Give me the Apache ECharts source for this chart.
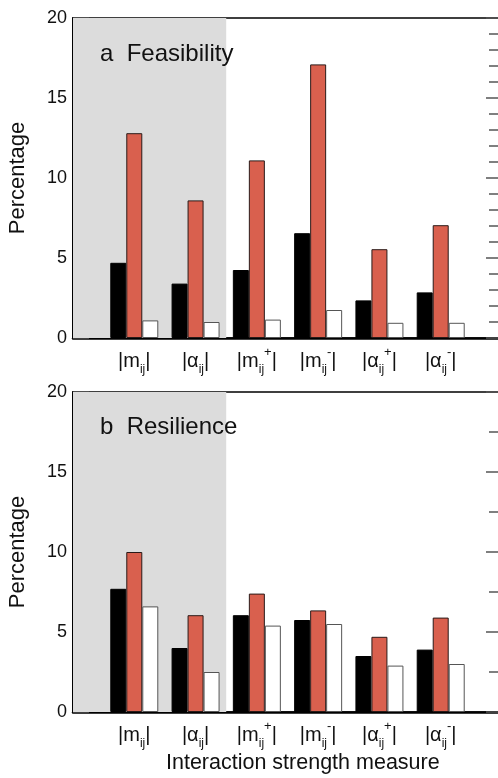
<!DOCTYPE html>
<html>
<head>
<meta charset="utf-8">
<script src="https://cdn.jsdelivr.net/npm/echarts@6/dist/echarts.min.js"></script>
<style>
	html, body {
		margin: 0;
		padding: 0;
		background: #fff;
	}

	#chart {
		width: 498px;
		height: 778px;
	}
</style>
</head>
<body>
<div id="chart"></div>
<script>
	// 横轴类别 (rich text)
	var categories = [
		'{n||m}{sub|ij}{n||}',
		'{n||α}{sub|ij}{n||}',
		'{n||m}{sub|ij}{sup|+}{n||}',
		'{n||m}{sub|ij}{sup|-}{n||}',
		'{n||α}{sub|ij}{sup|+}{n||}',
		'{n||α}{sub|ij}{sup|-}{n||}'
	];
	// a Feasibility
	var feasBlack = [4.7, 3.4, 4.25, 6.55, 2.35, 2.85];
	var feasRed = [12.8, 8.6, 11.1, 17.1, 5.55, 7.05];
	var feasWhite = [1.1, 1.0, 1.15, 1.75, 0.95, 0.95];
	// b Resilience
	var resBlack = [7.7, 4.0, 6.05, 5.75, 3.5, 3.9];
	var resRed = [10.0, 6.05, 7.4, 6.35, 4.7, 5.9];
	var resWhite = [6.6, 2.5, 5.4, 5.5, 2.9, 3.0];
	var yTicks = [0, 5, 10, 15, 20];
	var panelTitles = ['a  Feasibility', 'b  Resilience'];

	var font = 'Liberation Sans';
	var red = '#d9604e';
	var grey = '#dcdcdc';

	function pts(vals) {
		return vals.map(function (v, i) { return [i + 1, v]; });
	}

	var grids = [
		{ left: 73, top: 18, height: 320, width: 429, outerBoundsMode: 'none', containLabel: false,
			show: true, borderColor: '#000', borderWidth: 1.5, backgroundColor: '#fff' },
		{ left: 73, top: 392, height: 320, width: 429, outerBoundsMode: 'none', containLabel: false,
			show: true, borderColor: '#000', borderWidth: 1.5, backgroundColor: '#fff' }
	];

	var xAxes = [];
	var yAxes = [];
	var series = [];

	[0, 1].forEach(function (g) {
		xAxes.push({
			type: 'value', gridIndex: g, min: 0, max: 7, interval: 1,
			splitLine: { show: false },
			axisTick: { show: false },
			axisLine: { show: true, lineStyle: { color: '#000', width: 2.5 } },
			axisLabel: {
				margin: 8,
				formatter: function (v) { return (v >= 1 && v <= 6) ? categories[v - 1] : ''; },
				rich: {
					n: { fontFamily: font, fontSize: 20, color: '#111', lineHeight: 30, verticalAlign: 'middle' },
					sub: { fontFamily: font, fontSize: 12, color: '#111', lineHeight: 12, verticalAlign: 'bottom' },
					sup: { fontFamily: font, fontSize: 13, color: '#111', lineHeight: 13, verticalAlign: 'top' }
				}
			}
		});
		yAxes.push({
			type: 'value', gridIndex: g, min: 0, max: 20, interval: 5,
			name: 'Percentage', nameLocation: 'middle', nameGap: 44, nameRotate: 90,
			nameTextStyle: { fontFamily: font, fontSize: 22, color: '#111' },
			splitLine: { show: false },
			axisLine: { show: true, lineStyle: { color: '#000', width: 2 } },
			axisTick: { show: true, inside: true, length: 16, lineStyle: { color: '#555', width: 1.5 } },
			minorTick: { show: true, splitNumber: g === 0 ? 5 : 2, length: 12, lineStyle: { color: '#555', width: 1.5 } },
			axisLabel: { fontFamily: font, fontSize: 18, color: '#111', margin: 6,
				formatter: function (v) { return yTicks.indexOf(v) >= 0 ? String(v) : ''; } }
		});
		yAxes.push({
			type: 'value', gridIndex: g, min: 0, max: 20, interval: 5, position: 'right',
			splitLine: { show: false },
			axisLine: { show: false },
			axisLabel: { show: false },
			axisTick: { show: true, inside: true, length: 16, lineStyle: { color: '#555', width: 1.5 } },
			minorTick: { show: true, splitNumber: g === 0 ? 5 : 2, length: 13, lineStyle: { color: '#555', width: 1.5 } }
		});
	});

	function addPanel(g, black, redv, white) {
		series.push({
			type: 'line', xAxisIndex: g, yAxisIndex: g * 2, data: [], z: 1, silent: true,
			markArea: { silent: true, itemStyle: { color: grey }, data: [[{ xAxis: 0 }, { xAxis: 2.5 }]] }
		});
		series.push({ type: 'bar', xAxisIndex: g, yAxisIndex: g * 2, data: pts(black), barWidth: 16, barGap: '0%', z: 3,
			itemStyle: { color: '#000', borderColor: '#000', borderWidth: 1 } });
		series.push({ type: 'bar', xAxisIndex: g, yAxisIndex: g * 2, data: pts(redv), barWidth: 16, barGap: '0%', z: 3,
			itemStyle: { color: red, borderColor: '#2a1a18', borderWidth: 1 } });
		series.push({ type: 'bar', xAxisIndex: g, yAxisIndex: g * 2, data: pts(white), barWidth: 16, barGap: '0%', z: 3,
			itemStyle: { color: '#fff', borderColor: '#555', borderWidth: 1 } });
	}
	addPanel(0, feasBlack, feasRed, feasWhite);
	addPanel(1, resBlack, resRed, resWhite);

	var chart = echarts.init(document.getElementById('chart'), null, { renderer: 'canvas' });
	chart.setOption({
		backgroundColor: '#fff',
		animation: false,
		title: [
			{ text: panelTitles[0], left: 100, top: 42, padding: 0, textStyle: { fontFamily: font, fontSize: 24, fontWeight: 'normal', color: '#111' } },
			{ text: panelTitles[1], left: 100, top: 415, padding: 0, textStyle: { fontFamily: font, fontSize: 24, fontWeight: 'normal', color: '#111' } }
		],
		graphic: [{
			type: 'text', left: 166, top: 752, z: 10,
			style: { text: 'Interaction strength measure', fontFamily: font, fontSize: 21.5, fill: '#111' }
		}],
		grid: grids,
		xAxis: xAxes,
		yAxis: yAxes,
		series: series
	});
</script>
</body>
</html>
